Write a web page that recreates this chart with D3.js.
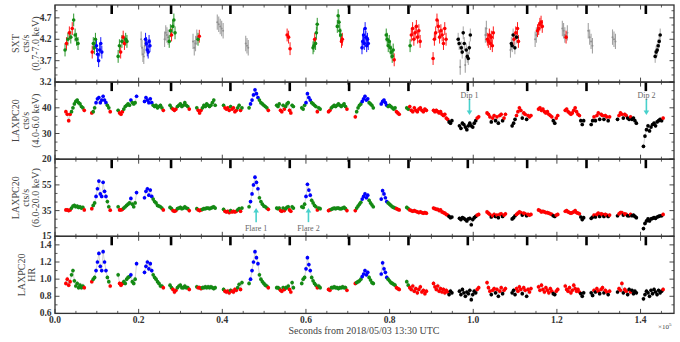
<!DOCTYPE html>
<html lang="en">
<head>
<meta charset="UTF-8">
<title>SXT / LAXPC20 light curves</title>
<script src="https://d3js.org/d3.v7.min.js"></script>
<style>
  body { margin: 0; background: #fff; }
  text { font-family: "Liberation Serif", "DejaVu Serif", serif; }
</style>
</head>
<body>
<script>
// ---- LAXPC20 orbits (start / end, seconds) ----
const laxStart = [2600, 8800, 15100, 21400, 27500, 33900, 40300, 46400, 53000, 59000, 65400, 71800,
                  78000, 84100, 90500, 96700, 103300, 109300, 115600, 122000, 128200, 134500, 140700];
const laxEnd   = [7000, 13200, 19500, 25900, 32100, 38300, 44700, 51000, 57000, 63400, 69800, 76100,
                  82300, 88800, 94900, 101300, 107700, 113800, 120200, 126400, 132600, 139000, 145400];

// 4.0-6.0 keV rate per orbit
const soft = [
  [38.5, 37.5, 35, 37.5, 38.5, 40, 41.5, 42.5, 43, 42, 41.5, 40.5, 40, 39],
  [38, 38.5, 40, 42, 43.5, 44, 42, 43, 44.5, 43, 42, 41, 40, 38.5],
  [39, 38, 37.5, 38.5, 39.5, 40.5, 41, 41.5, 41, 43, 42, 41.5, 42, 44.5],
  [42.5, 44, 43, 42, 43.5, 42, 41, 40.5, 41, 40, 40.5, 41, 40, 39],
  [41, 40, 39.5, 39, 39.5, 40.5, 41, 41.5, 40.5, 41, 42, 41, 40.5, 39.5],
  [40, 39, 38, 39, 40, 41, 40.5, 41.5, 41, 40.5, 41, 42, 43, 41],
  [41, 40, 39.5, 40, 39, 40.5, 39.5, 40, 38.5, 39, 40, 41, 39, 40],
  [40, 41.5, 43, 45, 47, 45.5, 44, 43, 42, 41.5, 41, 40.5, 40, 39],
  [41, 40.5, 41.5, 39, 38.5, 41, 39.5, 40.5, 41.5, 42, 39, 38, 41, 40.5],
  [40, 39.5, 41, 42, 45.5, 44, 43, 42, 41.5, 41, 40.5, 38.5, 40, 39.5],
  [38.5, 39, 40, 40.5, 41, 40.5, 41, 41.5, 41, 40.5, 41, 41.5, 40.5, 39.5],
  [36.5, 38.5, 40, 41, 41.5, 42.5, 43.5, 44.5, 43, 43.5, 42, 41.5, 41, 40],
  [41.5, 42.5, 43, 42, 41, 40.5, 41, 40.5, 40, 39.5, 40, 38.5, 38, 37.5],
  [40, 39.5, 40.5, 39, 38.5, 40, 39, 38.5, 39.5, 40, 39, 38.5, 39.5, 39],
  [39, 38.5, 39, 38.5, 38, 38.5, 37.5, 37, 37.5, 36, 35.5, 34.5, 34, 35],
  [33, 32, 34, 33.5, 32.5, 31.5, 33, 34, 33, 32.5, 34, 35, 36, 36.5],
  [38, 37.5, 36.5, 34.5, 36, 37, 35, 36.5, 34, 37, 37.5, 35, 36, 37.5],
  [33, 34, 35.5, 37, 38.5, 40, 39, 36, 38, 37.5, 35.5, 37, 36.5, 37],
  [39.5, 40, 39, 39.5, 38.5, 38, 38.5, 37.5, 37, 36.5, 35, 34, 36, 37],
  [39, 39.5, 38.5, 38, 37.5, 38, 39, 40, 38.5, 37.5, 37, 35, 33.5, 35],
  [33.5, 35, 36.5, 35, 37, 38, 35.5, 37.5, 37, 35.5, 37, 36.5, 35, 36.5],
  [35.5, 37, 38, 37.5, 36, 37.5, 37, 36, 35.5, 36.5, 35.5, 36, 35, 34],
  [25, 29, 31.5, 33, 31, 32.5, 33.5, 34, 33, 34.5, 35, 35.5, 35, 36]
];

// 6.0-20.0 keV rate per orbit
const hard = [
  [35.5, 35.5, 35, 35.5, 37, 38.5, 39, 38, 38.5, 37.5, 38, 37, 37.5, 35.5],
  [36.5, 39, 41, 46, 52, 58, 48, 46, 57, 50, 46, 42, 38, 35.3],
  [38, 35.5, 35.5, 36, 37, 38, 39, 40, 41, 44.5, 40, 38, 41, 49],
  [45, 50, 52, 47, 51, 46, 44, 42, 41, 39, 38.5, 38, 37, 35.5],
  [37.5, 36.5, 35, 34.5, 35, 36.5, 37, 37.5, 36.5, 37, 38, 37, 36.5, 35],
  [36.5, 35.5, 35, 35.5, 36, 36.5, 36.5, 37, 37, 36.5, 37, 37.5, 38, 37],
  [36, 34.5, 34, 34.5, 33.5, 35, 34, 34.5, 34, 34.5, 35.5, 36.5, 34.5, 37],
  [38, 42, 48, 55, 61, 57, 52, 45, 42, 40, 38.5, 38, 37, 36],
  [37, 36.5, 37, 35, 34.5, 37, 35, 36.5, 37.5, 38, 35.5, 34.5, 38, 37],
  [38, 37.5, 40, 46, 55.5, 51, 47, 43, 41, 39, 38, 35.5, 37, 36.5],
  [35, 35.5, 36, 36.5, 37, 36.5, 37, 37, 36.5, 36.5, 37, 37.5, 36.5, 35],
  [35, 37, 38.5, 40, 41.5, 44, 46, 48, 45, 47, 43, 41, 39.5, 38],
  [44, 50.5, 48, 45, 42, 41, 40, 39, 38, 37.5, 37, 36.5, 36, 35.5],
  [37.5, 36.5, 35.5, 35, 34.5, 35, 34.5, 34, 33.5, 34, 33.5, 33, 33.5, 33],
  [37, 36.5, 36, 36, 35, 35.5, 34, 33.5, 33, 32, 31.5, 30.5, 29.5, 30],
  [29, 28, 29.5, 29, 28, 27, 28.5, 29, 24, 28, 29.5, 30.5, 31.5, 32],
  [34, 33, 32, 30, 31, 32, 30.5, 31.5, 29.5, 32, 32.5, 30.5, 31.5, 32.5],
  [28.5, 29.5, 31, 32, 33, 34, 33.5, 31.5, 33, 32.5, 31, 32, 31.5, 32],
  [35.5, 35, 34, 34.5, 34, 33.5, 33.5, 33, 32.5, 32, 31, 30.5, 31.5, 32],
  [34.5, 35, 34, 33.5, 33, 33.5, 34, 35, 33.5, 33, 32.5, 30, 28, 29.5],
  [29, 30, 31.5, 30, 32, 33, 30.5, 32.5, 32, 30.5, 32, 31.5, 30.5, 31.5],
  [31, 32.5, 33.5, 33.5, 31.5, 32.5, 32, 31, 31, 32, 31, 31.5, 30.5, 29.5],
  [21, 25, 27, 28.5, 27, 28.5, 29, 29.5, 29, 30, 30.5, 31, 31, 32]
];

// hardness ratio per orbit
const hr = [
  [0.95, 1.0, 0.93, 0.97, 1.05, 1.1, 0.98, 0.92, 0.95, 0.9, 0.93, 0.9, 0.92, 0.9],
  [0.97, 1.0, 1.02, 1.1, 1.2, 1.3, 1.15, 1.1, 1.32, 1.2, 1.1, 1.02, 0.97, 0.92],
  [1.05, 0.95, 0.93, 0.95, 0.97, 0.95, 1.0, 1.02, 1.03, 1.05, 0.97, 0.95, 1.0, 1.18],
  [1.08, 1.15, 1.2, 1.12, 1.18, 1.1, 1.05, 1.02, 1.0, 0.97, 0.95, 0.92, 0.92, 0.9],
  [0.93, 0.9, 0.88, 0.85, 0.87, 0.9, 0.92, 0.93, 0.9, 0.9, 0.92, 0.9, 0.9, 0.88],
  [0.91, 0.9, 0.9, 0.89, 0.9, 0.9, 0.91, 0.9, 0.91, 0.9, 0.91, 0.9, 0.89, 0.9],
  [0.88, 0.86, 0.85, 0.86, 0.84, 0.87, 0.86, 0.85, 0.88, 0.87, 0.9, 0.94, 0.88, 0.96],
  [0.95, 1.0, 1.1, 1.2, 1.32, 1.25, 1.18, 1.05, 1.0, 0.97, 0.95, 0.93, 0.92, 0.9],
  [0.9, 0.9, 0.89, 0.87, 0.86, 0.9, 0.88, 0.9, 0.9, 0.92, 0.88, 0.85, 0.96, 0.9],
  [0.95, 1.0, 1.02, 1.12, 1.25, 1.17, 1.1, 1.02, 0.98, 0.95, 0.93, 0.9, 0.92, 0.9],
  [0.88, 0.87, 0.9, 0.9, 0.91, 0.9, 0.9, 0.89, 0.9, 0.9, 0.91, 0.9, 0.9, 0.87],
  [0.95, 0.96, 0.97, 0.98, 1.0, 1.03, 1.06, 1.1, 1.05, 1.08, 1.02, 0.99, 0.96, 0.95],
  [1.06, 1.19, 1.12, 1.08, 1.02, 1.0, 0.98, 0.96, 0.95, 0.94, 0.93, 0.9, 0.89, 0.88],
  [0.97, 0.93, 0.9, 0.88, 0.92, 0.86, 0.89, 0.84, 0.88, 0.91, 0.85, 0.87, 0.83, 0.86],
  [0.95, 0.91, 0.88, 0.92, 0.86, 0.89, 0.85, 0.88, 0.84, 0.87, 0.85, 0.82, 0.86, 0.84],
  [0.86, 0.82, 0.88, 0.84, 0.8, 0.85, 0.83, 0.87, 0.76, 0.82, 0.86, 0.84, 0.88, 0.9],
  [0.96, 0.9, 0.86, 0.82, 0.87, 0.89, 0.84, 0.88, 0.8, 0.86, 0.9, 0.83, 0.87, 0.89],
  [0.84, 0.87, 0.82, 0.89, 0.86, 0.91, 0.88, 0.83, 0.9, 0.87, 0.8, 0.88, 0.85, 0.89],
  [0.91, 0.87, 0.93, 0.88, 0.85, 0.9, 0.87, 0.84, 0.89, 0.86, 0.83, 0.82, 0.86, 0.88],
  [0.92, 0.88, 0.86, 0.9, 0.84, 0.87, 0.93, 0.89, 0.86, 0.88, 0.85, 0.83, 0.8, 0.84],
  [0.84, 0.81, 0.87, 0.85, 0.89, 0.86, 0.83, 0.88, 0.9, 0.84, 0.87, 0.85, 0.82, 0.86],
  [0.85, 0.89, 0.87, 0.95, 0.84, 0.88, 0.86, 0.82, 0.88, 0.85, 0.87, 0.83, 0.86, 0.84],
  [0.77, 0.82, 0.86, 0.84, 0.8, 0.87, 0.83, 0.88, 0.85, 0.82, 0.87, 0.84, 0.86, 0.88]
];

// state of every bin: r, g, b, k
const laxColour = [
  "rrrrgggggggggr", "rggbbbbbbbbggr", "grrrgggggbgggb", "bbbbbbgggggggr",
  "ggrrrggggggggr", "grrrgggggggggg", "grrrrgrrrrggrg", "gbbbbbbggggggr",
  "gggrrgrgggrrgg", "gggbbbbggggrgg", "rrgggggggggggr", "rggggbbbbbgggg",
  "bbbbbggggggrrr", "ggrrrrrrrrrrrr", "rrrrrrrrrrrkkk", "kkkkkkkkkkkkrr",
  "rrrkrrkrkrrkrr", "kkkrrrrkrrkrrr", "rrrrrrrrrrkkrr", "rrrrrrrrrrrkkk",
  "kkrkrrkrrkrrkr", "krrrkrrkkrkkkk", "kkkkkkkkkkkkkr"
];

// ---- SXT snapshots ----
const sxtStart = [2400, 8900, 15100, 20600, 26200, 33000, 38800, 45600, 55500, 61700, 67500, 73400,
                  79200, 84900, 90400, 96400, 102900, 108900, 114800, 121300, 127500, 133300, 143500];
const sxtEnd   = [5500, 11200, 17200, 22700, 28700, 34500, 40200, 46200, 56200, 62700, 68700, 74900,
                  81100, 87300, 93500, 99300, 104800, 110800, 116500, 122500, 128500, 134000, 144700];
const sxtRate = [
  [3.95, 4.1, 4.2, 4.35, 4.25, 4.45, 4.65, 4.3, 4.2, 4.1],
  [3.9, 4.1, 4.0, 4.2, 4.05, 3.85, 3.7, 3.95, 4.1, 3.9],
  [3.8, 4.05, 3.9, 4.15, 4.25, 4.1, 4.2, 4.15],
  [4.2, 4.0, 3.85, 3.8, 4.05, 4.2, 4.1, 3.95, 3.9, 4.15, 4.05],
  [4.2, 4.35, 4.3, 4.25, 4.15, 4.4, 4.3, 4.5, 4.65, 4.35],
  [4.15, 4.0, 4.1, 4.25, 4.2, 4.27],
  [4.6, 4.55, 4.5, 4.45, 4.4],
  [4.1, 4.05, 4.0],
  [4.3, 4.25, 3.98],
  [4.0, 4.05, 4.2, 4.1, 4.35, 4.55],
  [4.5, 4.75, 4.6, 4.4, 4.3, 4.15, 4.2],
  [4.0, 4.15, 4.3, 4.1, 4.45, 4.25, 4.05, 4.2, 4.1],
  [4.3, 4.2, 4.05, 4.15, 4.0, 3.9, 3.8, 3.95, 3.72],
  [4.05, 4.3, 4.45, 4.2, 4.35, 4.5, 4.25, 4.4, 4.15],
  [3.75, 4.2, 4.35, 4.65, 4.5, 4.25, 4.4, 4.3, 4.1, 4.45, 4.2],
  [4.2, 4.1, 3.55, 4.0, 3.9, 4.35, 4.1, 3.6, 3.95, 3.8, 3.75, 4.0, 4.3],
  [4.3, 4.45, 4.2, 4.15, 4.3, 4.1, 4.25, 4.05, 4.35],
  [3.95, 4.1, 4.05, 4.3, 4.2, 4.0, 4.35, 4.25, 4.45, 4.15],
  [4.2, 4.3, 4.4, 4.45, 4.55, 4.6, 4.5],
  [4.45, 4.4, 4.3, 4.25, 4.35],
  [4.4, 4.25, 4.15, 4.05],
  [4.25, 4.2, 4.15],
  [3.8, 3.9, 3.95, 4.05, 4.15, 4.3]
];
// a = no simultaneous LAXPC state (grey)
const sxtColour = [
  "grgrgrgggg", "rgggbbbbbb", "ggrgrrgg", "aaaaabbbbbb", "aaaaggrggg", "aaaagr",
  "aaaaa", "aaa", "rrr", "ggrggg", "gggggrr", "bbbbbbbbb", "ggggggggr", "grrrrrrrr",
  "rrrrrrrrrrr", "kkakkkkakkkkk", "aarrrrrrr", "akkkrkrkrr", "aarrrrr", "aaara",
  "aaaa", "aaa", "kkkkkk"
];
const sxtErr = 0.15;

// thick tick marks along the top of each panel
const markerT = [13560, 27750, 41940, 56130, 70320, 84510, 98700, 112890, 127080, 141270];

// annotations: panel index, time, arrow tail / tip, label value
const notes = [
  { text: "Dip 1",   panel: 1, t: 99100,  tail: 43.4, tip: 37.2, at: 44.8 },
  { text: "Dip 2",   panel: 1, t: 141400, tail: 43.4, tip: 37.2, at: 44.8 },
  { text: "Flare 1", panel: 2, t: 48090,  tail: 26.0, tip: 37.0, at: 21.4 },
  { text: "Flare 2", panel: 2, t: 60600,  tail: 26.0, tip: 37.0, at: 21.4 }
];

// axes
const yDomains  = [[3.2, 5.0], [20, 50], [15, 75], [0.6, 1.5]];
const yMajor    = [[3.2, 3.7, 4.2, 4.7], [20, 30, 40, 50], [15, 35, 55, 75], [0.6, 0.8, 1.0, 1.2, 1.4]];
const yLabelled = [[3.2, 3.7, 4.2, 4.7], [20, 30, 40], [15, 35, 55], [0.6, 0.8, 1.0, 1.2, 1.4]];
const yMinorSplit = [3, 3, 3, 2];
const yTitles = [["SXT", "cts/s", "(0.7-7.0 keV)"],
                 ["LAXPC20", "cts/s", "(4.0-6.0 keV)"],
                 ["LAXPC20", "cts/s", "(6.0-20.0 keV)"],
                 ["LAXPC20", "HR"]];
const xMajor = [0, 20000, 40000, 60000, 80000, 100000, 120000, 140000];
const xTitle = "Seconds from 2018/05/03 13:30 UTC";

const colours = { r: "#ff0000", g: "#138a13", b: "#0000ff", k: "#000000", a: "#a3a3a3" };

// ---------------------------------------------------------------
const svg = d3.select("body").append("svg")
  .attr("width", 680).attr("height", 342);

const left = 55, right = 674;
const panelTop = [5, 82.1, 159.2, 236.3];
const panelH = 77.1;

const x = d3.scaleLinear().domain([0, 148000]).range([left, right]);
const ys = yDomains.map((d, i) =>
  d3.scaleLinear().domain(d).range([panelTop[i] + panelH, panelTop[i]]));

// flatten LAXPC bins
const lax = [];
laxStart.forEach((t0, s) => {
  const n = soft[s].length;
  soft[s].forEach((v, i) => lax.push({
    seg: s, t: t0 + (laxEnd[s] - t0) * i / (n - 1),
    v: [null, v, hard[s][i], hr[s][i]], c: laxColour[s][i]
  }));
});
const laxErr = [null, 0.8, 1.6, 0.028];

// flatten SXT bins
const sxt = [];
sxtStart.forEach((t0, s) => {
  const n = sxtRate[s].length;
  sxtRate[s].forEach((v, i) => sxt.push({
    t: n > 1 ? t0 + (sxtEnd[s] - t0) * i / (n - 1) : t0, v, c: sxtColour[s][i]
  }));
});

// ---- SXT panel ----
const g0 = svg.append("g");
const greys = sxt.filter(d => d.c === "a");
const cols = sxt.filter(d => d.c !== "a");
g0.selectAll("line.ge").data(greys).enter().append("line")
  .attr("x1", d => x(d.t)).attr("x2", d => x(d.t))
  .attr("y1", d => ys[0](d.v - sxtErr - 0.03)).attr("y2", d => ys[0](d.v + sxtErr + 0.03))
  .attr("stroke", colours.a).attr("stroke-width", 1.1);
g0.selectAll("circle.gp").data(greys).enter().append("circle")
  .attr("cx", d => x(d.t)).attr("cy", d => ys[0](d.v)).attr("r", 1)
  .attr("fill", "#8f8f8f");
g0.selectAll("line.ce").data(cols).enter().append("line")
  .attr("x1", d => x(d.t)).attr("x2", d => x(d.t))
  .attr("y1", d => ys[0](d.v - sxtErr)).attr("y2", d => ys[0](d.v + sxtErr))
  .attr("stroke", d => d.c === "k" ? "#9a9a9a" : colours[d.c]).attr("stroke-width", 0.9);
g0.selectAll("circle.cp").data(cols).enter().append("circle")
  .attr("cx", d => x(d.t)).attr("cy", d => ys[0](d.v)).attr("r", 1.8)
  .attr("fill", d => colours[d.c]);

// ---- LAXPC panels ----
[1, 2, 3].forEach(p => {
  const g = svg.append("g");
  const line = d3.line().x(d => x(d.t)).y(d => ys[p](d.v[p]));
  d3.groups(lax, d => d.seg).forEach(([, pts]) => {
    g.append("path").attr("d", line(pts))
      .attr("fill", "none").attr("stroke", "#c4c4c4").attr("stroke-width", 0.7);
  });
  g.selectAll("line.e").data(lax).enter().append("line")
    .attr("x1", d => x(d.t)).attr("x2", d => x(d.t))
    .attr("y1", d => ys[p](d.v[p] - laxErr[p])).attr("y2", d => ys[p](d.v[p] + laxErr[p]))
    .attr("stroke", "#b5b5b5").attr("stroke-width", 0.8);
  g.selectAll("circle").data(lax).enter().append("circle")
    .attr("cx", d => x(d.t)).attr("cy", d => ys[p](d.v[p])).attr("r", 1.85)
    .attr("fill", d => colours[d.c]);
});

// ---- annotations ----
const cyan = "#48d1cc";
notes.forEach(n => {
  const y = ys[n.panel], cx = x(n.t);
  const yTail = y(n.tail), yTip = y(n.tip);
  const dir = yTip > yTail ? 1 : -1;
  svg.append("line").attr("x1", cx).attr("x2", cx)
    .attr("y1", yTail).attr("y2", yTip - dir * 4)
    .attr("stroke", cyan).attr("stroke-width", 1.6);
  svg.append("path")
    .attr("d", `M${cx - 2.8},${yTip - dir * 4.5}L${cx + 2.8},${yTip - dir * 4.5}L${cx},${yTip}Z`)
    .attr("fill", cyan);
  svg.append("text").attr("x", cx).attr("y", y(n.at))
    .attr("text-anchor", "middle").attr("dominant-baseline", "central")
    .attr("font-size", 8).attr("fill", "#666").text(n.text);
});

// ---- frames, ticks, labels ----
const xMinor = d3.range(0, 148001, 5000).filter(t => t % 20000 !== 0);
panelTop.forEach((top, p) => {
  const bot = top + panelH;
  const g = svg.append("g").attr("stroke", "#333");
  // x ticks top and bottom, inward
  xMajor.forEach(t => {
    g.append("line").attr("x1", x(t)).attr("x2", x(t)).attr("y1", bot).attr("y2", bot - 4.5).attr("stroke-width", 0.9);
    g.append("line").attr("x1", x(t)).attr("x2", x(t)).attr("y1", top).attr("y2", top + 4.5).attr("stroke-width", 0.9);
  });
  xMinor.forEach(t => {
    g.append("line").attr("x1", x(t)).attr("x2", x(t)).attr("y1", bot).attr("y2", bot - 2.5).attr("stroke-width", 0.8);
    g.append("line").attr("x1", x(t)).attr("x2", x(t)).attr("y1", top).attr("y2", top + 2.5).attr("stroke-width", 0.8);
  });
  // y ticks left and right
  const maj = yMajor[p];
  const step = (maj[1] - maj[0]) / yMinorSplit[p];
  const [d0, d1] = yDomains[p];
  const minor = d3.range(d0, d1 + 1e-9, step).filter(v => !maj.some(m => Math.abs(m - v) < 1e-6));
  maj.forEach(v => {
    g.append("line").attr("x1", left).attr("x2", left + 4.5).attr("y1", ys[p](v)).attr("y2", ys[p](v)).attr("stroke-width", 0.9);
    g.append("line").attr("x1", right).attr("x2", right - 4.5).attr("y1", ys[p](v)).attr("y2", ys[p](v)).attr("stroke-width", 0.9);
  });
  minor.forEach(v => {
    g.append("line").attr("x1", left).attr("x2", left + 2.5).attr("y1", ys[p](v)).attr("y2", ys[p](v)).attr("stroke-width", 0.8);
    g.append("line").attr("x1", right).attr("x2", right - 2.5).attr("y1", ys[p](v)).attr("y2", ys[p](v)).attr("stroke-width", 0.8);
  });
  // orbit markers
  markerT.forEach(t => {
    svg.append("line").attr("x1", x(t)).attr("x2", x(t)).attr("y1", top).attr("y2", top + 9)
      .attr("stroke", "#000").attr("stroke-width", 2.6);
  });
  // frame
  svg.append("rect").attr("x", left).attr("y", top).attr("width", right - left).attr("height", panelH)
    .attr("fill", "none").attr("stroke", "#333").attr("stroke-width", 1.3);
  // tick labels
  const fmt = p === 1 || p === 2 ? d3.format("d") : d3.format(".1f");
  yLabelled[p].forEach(v => {
    svg.append("text").attr("x", left - 3.5).attr("y", ys[p](v))
      .attr("text-anchor", "end").attr("dominant-baseline", "central")
      .attr("font-size", 9.5).attr("font-weight", "bold").attr("fill", "#333").text(fmt(v));
  });
  // y title
  const lines = yTitles[p];
  const xs = lines.length === 3 ? [15, 25, 35] : [21, 31];
  lines.forEach((s, i) => {
    svg.append("text").attr("transform", `translate(${xs[i]},${top + panelH / 2}) rotate(-90)`)
      .attr("text-anchor", "middle").attr("dominant-baseline", "central")
      .attr("font-size", 10).attr("fill", "#444").text(s);
  });
});

// x tick labels
const bottom = panelTop[3] + panelH;
xMajor.forEach(t => {
  svg.append("text").attr("x", x(t)).attr("y", bottom + 10)
    .attr("text-anchor", "middle").attr("font-size", 9.5).attr("font-weight", "bold")
    .attr("fill", "#333").text(d3.format(".1f")(t / 1e5));
});
svg.append("text").attr("x", 364).attr("y", bottom + 20.5)
  .attr("text-anchor", "middle").attr("font-size", 10).attr("fill", "#444").text(xTitle);
const exp = svg.append("text").attr("x", 658).attr("y", bottom + 16)
  .attr("font-size", 7).attr("fill", "#444");
exp.append("tspan").text("\u00d710");
exp.append("tspan").attr("dy", -3).attr("font-size", 5).text("5");
</script>
</body>
</html>
